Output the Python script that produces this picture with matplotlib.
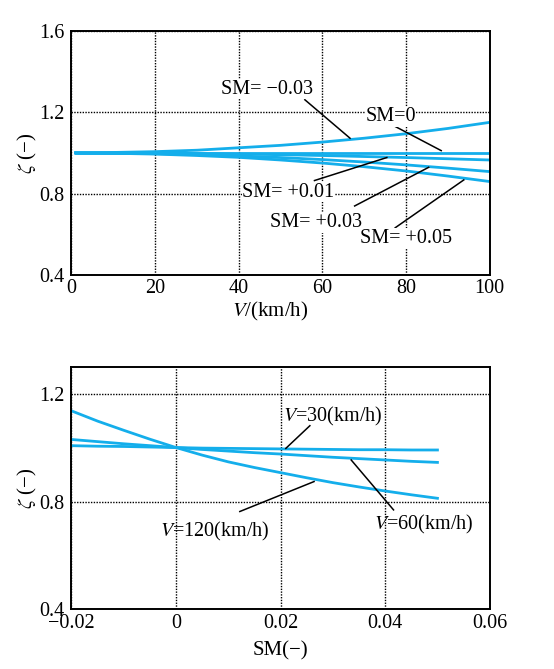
import matplotlib
matplotlib.use("Agg")
from matplotlib import pyplot as plt

plt.rcParams["font.family"] = ["Liberation Serif", "DejaVu Serif"]
plt.rcParams["mathtext.fontset"] = "stix"

# top: stability factor vs speed, one curve per static margin
speed = [1, 10, 20, 30, 40, 50, 60, 70, 80, 90, 100]
zeta_sm_m003 = [1.0, 1.002, 1.006, 1.013, 1.025, 1.037, 1.053, 1.072, 1.094, 1.12, 1.15]
zeta_sm_0 = [1.0, 1.0, 1.0, 1.0, 1.0, 1.0, 1.0, 1.0, 1.0, 1.0, 1.0]
zeta_sm_p001 = [1.0, 1.0, 0.999, 0.997, 0.994, 0.991, 0.987, 0.982, 0.977, 0.971, 0.965]
zeta_sm_p003 = [1.0, 0.999, 0.996, 0.992, 0.985, 0.977, 0.967, 0.955, 0.941, 0.925, 0.908]
zeta_sm_p005 = [1.0, 0.998, 0.994, 0.987, 0.978, 0.965, 0.95, 0.932, 0.911, 0.886, 0.859]

# bottom: stability factor vs static margin, one curve per speed
sm = [-0.02, -0.015, -0.01, -0.005, 0.0, 0.005, 0.01, 0.015,
      0.02, 0.025, 0.03, 0.035, 0.04, 0.045, 0.05]
zeta_v30 = [1.007, 1.005, 1.004, 1.002, 1.0, 0.998, 0.997, 0.996,
            0.995, 0.994, 0.993, 0.992, 0.992, 0.991, 0.991]
zeta_v60 = [1.030, 1.022, 1.014, 1.007, 1.0, 0.993, 0.987, 0.981,
            0.976, 0.970, 0.964, 0.959, 0.954, 0.949, 0.945]
zeta_v120 = [1.136, 1.098, 1.064, 1.031, 1.0, 0.972, 0.947, 0.926,
             0.907, 0.888, 0.870, 0.854, 0.839, 0.825, 0.812]

CYAN = "#14AEEB"
TICK_FS = 14.5
LABEL_FS = 15
NOTE_FS = 14.5

fig = plt.figure(figsize=(5.54, 6.69), dpi=100)
ax_top = fig.add_axes([0.129, 0.589, 0.755, 0.365])
ax_bot = fig.add_axes([0.129, 0.089, 0.755, 0.363])


def style_axes(ax):
    ax.grid(True, color="black", linestyle=(0, (1, 1)), linewidth=1.0)
    ax.set_axisbelow(True)
    for sp in ax.spines.values():
        sp.set_linewidth(1.4)
    ax.tick_params(length=0, labelsize=TICK_FS, pad=5)
    ax.tick_params(axis="x", pad=3)


for z in [zeta_sm_m003, zeta_sm_0, zeta_sm_p001, zeta_sm_p003, zeta_sm_p005]:
    ax_top.plot(speed, z, color=CYAN, linewidth=2)
ax_top.set_xlim(0, 100)
ax_top.set_ylim(0.4, 1.6)
ax_top.set_xticks([0, 20, 40, 60, 80, 100])
ax_top.set_yticks([0.4, 0.8, 1.2, 1.6])
ax_top.set_yticklabels(["0.4", "0.8", "1.2", "1.6"])
style_axes(ax_top)
ax_top.set_xlabel("$V$/(km/h)", fontsize=LABEL_FS)
ax_top.xaxis.set_label_coords(0.476, -0.102)
ax_top.set_ylabel(r"$\zeta$ (−)", fontsize=LABEL_FS)
ax_top.yaxis.set_label_coords(-0.078, 0.5)

top_labels = [
    ("SM= −0.03", (46.8, 1.313), (55.8, 1.261), (66.6, 1.072)),
    ("SM=0", (76.3, 1.178), (77.0, 1.134), (88.4, 1.011)),
    ("SM= +0.01", (51.8, 0.807), (58.1, 0.864), (75.4, 0.977)),
    ("SM= +0.03", (58.4, 0.657), (67.7, 0.739), (85.4, 0.929)),
    ("SM= +0.05", (79.9, 0.580), (77.4, 0.632), (93.8, 0.867)),
]
for text, pos, p0, p1 in top_labels:
    ax_top.plot([p0[0], p1[0]], [p0[1], p1[1]], color="black", linewidth=1.1)
    ax_top.text(pos[0], pos[1], text, fontsize=NOTE_FS, ha="center", va="center",
                bbox=dict(facecolor="white", edgecolor="none", pad=0.3))

for z in [zeta_v30, zeta_v60, zeta_v120]:
    ax_bot.plot(sm, z, color=CYAN, linewidth=2)
ax_bot.set_xlim(-0.02, 0.06)
ax_bot.set_ylim(0.4, 1.3)
ax_bot.set_xticks([-0.02, 0, 0.02, 0.04, 0.06])
ax_bot.set_xticklabels(["−0.02", "0", "0.02", "0.04", "0.06"])
ax_bot.set_yticks([0.4, 0.8, 1.2])
ax_bot.set_yticklabels(["0.4", "0.8", "1.2"])
style_axes(ax_bot)
ax_bot.set_xlabel("SM(−)", fontsize=LABEL_FS)
ax_bot.xaxis.set_label_coords(0.5, -0.131)
ax_bot.set_ylabel(r"$\zeta$ (−)", fontsize=LABEL_FS)
ax_bot.yaxis.set_label_coords(-0.078, 0.5)

bot_labels = [
    ("$V$=30(km/h)", (0.0299, 1.115), (0.0256, 1.081), (0.0210, 0.997)),
    ("$V$=60(km/h)", (0.0474, 0.715), (0.0416, 0.769), (0.0335, 0.954)),
    ("$V$=120(km/h)", (0.0075, 0.690), (0.0122, 0.763), (0.0264, 0.874)),
]
for text, pos, p0, p1 in bot_labels:
    ax_bot.plot([p0[0], p1[0]], [p0[1], p1[1]], color="black", linewidth=1.1)
    ax_bot.text(pos[0], pos[1], text, fontsize=NOTE_FS, ha="center", va="center")

fig.savefig("out.png", dpi=100)
